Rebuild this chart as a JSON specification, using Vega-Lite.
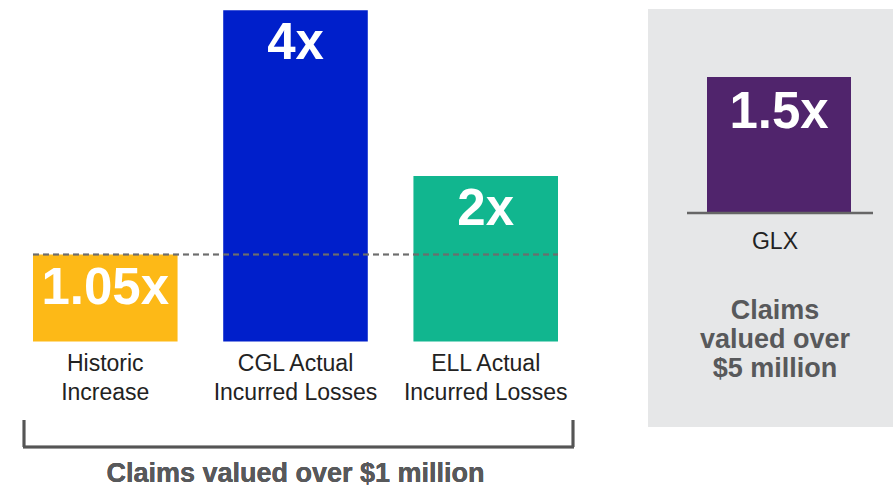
{
  "$schema": "https://vega.github.io/schema/vega-lite/v6.json",
  "padding": {"left": 8, "right": 0, "top": 0, "bottom": 0},
  "spacing": 55,
  "config": {"view": {"stroke": null}, "font": "Liberation Sans"},
  "hconcat": [
    {
      "width": 585,
      "height": 488,
      "data": {"values": [
        {"cat": "Historic Increase", "label": "Historic\nIncrease", "value": 1.05, "text": "1.05x"},
        {"cat": "CGL Actual Incurred Losses", "label": "CGL Actual\nIncurred Losses", "value": 4, "text": "4x"},
        {"cat": "ELL Actual Incurred Losses", "label": "ELL  Actual\nIncurred Losses", "value": 2, "text": "2x"}
      ]},
      "encoding": {
        "x": {"field": "cat", "type": "nominal", "axis": null,
              "scale": {"domain": ["Historic Increase", "CGL Actual Incurred Losses", "ELL Actual Incurred Losses"], "range": [25, 550], "paddingInner": 0.24, "paddingOuter": 0}}
      },
      "layer": [
        {
          "mark": {"type": "bar"},
          "encoding": {
            "y": {"field": "value", "type": "quantitative", "axis": null, "scale": {"domain": [-1.769, 4.124], "nice": false, "zero": false}},
            "y2": {"datum": 0},
            "color": {"field": "cat", "type": "nominal", "legend": null,
                      "scale": {"domain": ["Historic Increase", "CGL Actual Incurred Losses", "ELL Actual Incurred Losses"], "range": ["#FDB917", "#001FCB", "#11B68F"]}}
          }
        },
        {
          "mark": {"type": "rule", "color": "#6d6d6d", "strokeWidth": 1.5, "strokeDash": [6, 4]},
          "encoding": {
            "x": {"datum": "Historic Increase", "type": "nominal", "bandPosition": 0},
            "x2": {"datum": "ELL Actual Incurred Losses", "bandPosition": 1},
            "y": {"datum": 1.05, "type": "quantitative"}
          }
        },
        {
          "mark": {"type": "rule", "color": "#d3d3d3", "strokeWidth": 3},
          "encoding": {"y": {"datum": 0, "type": "quantitative"}}
        },
        {
          "mark": {"type": "text", "color": "white", "fontSize": 51, "fontWeight": "bold", "letterSpacing": -3.2, "baseline": "alphabetic", "dy": 49},
          "encoding": {
            "y": {"field": "value", "type": "quantitative"},
            "text": {"field": "text"}
          }
        },
        {
          "mark": {"type": "text", "color": "#222222", "fontSize": 23, "letterSpacing": -0.6, "lineBreak": "\n", "lineHeight": 28.5, "baseline": "alphabetic", "dy": 29.5},
          "encoding": {
            "y": {"datum": 0, "type": "quantitative"},
            "text": {"field": "label"}
          }
        },
        {
          "mark": {"type": "rule", "color": "#555555", "strokeWidth": 2.5, "xOffset": -9},
          "encoding": {
            "x": {"datum": "Historic Increase", "type": "nominal", "bandPosition": 0},
            "y": {"datum": -0.948, "type": "quantitative"},
            "y2": {"datum": -1.274}
          }
        },
        {
          "mark": {"type": "rule", "color": "#555555", "strokeWidth": 2.5, "xOffset": 15},
          "encoding": {
            "x": {"datum": "ELL Actual Incurred Losses", "type": "nominal", "bandPosition": 1},
            "y": {"datum": -0.948, "type": "quantitative"},
            "y2": {"datum": -1.274}
          }
        },
        {
          "mark": {"type": "rule", "color": "#555555", "strokeWidth": 2.5, "xOffset": -10, "x2Offset": 16},
          "encoding": {
            "x": {"datum": "Historic Increase", "type": "nominal", "bandPosition": 0},
            "x2": {"datum": "ELL Actual Incurred Losses", "bandPosition": 1},
            "y": {"datum": -1.274, "type": "quantitative"}
          }
        },
        {
          "mark": {"type": "text", "text": "Claims valued over $1 million", "color": "#58595b", "fontSize": 27, "fontWeight": "bold", "letterSpacing": -0.3, "baseline": "alphabetic", "dy": 35},
          "encoding": {
            "x": {"datum": "CGL Actual Incurred Losses", "type": "nominal"},
            "y": {"datum": -1.274, "type": "quantitative"}
          }
        }
      ]
    },
    {
      "width": 245,
      "height": 427,
      "data": {"values": [
        {"cat": "GLX", "value": 1.5, "text": "1.5x"}
      ]},
      "encoding": {
        "x": {"field": "cat", "type": "nominal", "axis": null,
              "scale": {"domain": ["GLX"], "range": [59, 203], "paddingInner": 0, "paddingOuter": 0}}
      },
      "layer": [
        {
          "mark": {"type": "rect", "color": "#e6e7e8"},
          "encoding": {
            "x": null,
            "y": {"datum": 2.25, "type": "quantitative", "axis": null, "scale": {"domain": [-2.36, 2.349], "nice": false, "zero": false}},
            "y2": {"datum": -2.36}
          }
        },
        {
          "mark": {"type": "bar", "color": "#50246C"},
          "encoding": {
            "y": {"field": "value", "type": "quantitative"},
            "y2": {"datum": 0}
          }
        },
        {
          "mark": {"type": "rule", "color": "#666666", "strokeWidth": 2.5, "xOffset": -20, "x2Offset": 22},
          "encoding": {
            "x": {"datum": "GLX", "type": "nominal", "bandPosition": 0},
            "x2": {"datum": "GLX", "bandPosition": 1},
            "y": {"datum": 0, "type": "quantitative"}
          }
        },
        {
          "mark": {"type": "text", "color": "white", "fontSize": 51, "fontWeight": "bold", "letterSpacing": -3.2, "baseline": "alphabetic", "dy": 51},
          "encoding": {
            "y": {"field": "value", "type": "quantitative"},
            "text": {"field": "text"}
          }
        },
        {
          "mark": {"type": "text", "color": "#222222", "fontSize": 23, "baseline": "alphabetic", "dy": 35.5, "dx": -4},
          "encoding": {
            "y": {"datum": 0, "type": "quantitative"},
            "text": {"field": "cat"}
          }
        },
        {
          "mark": {"type": "text", "text": "Claims\nvalued over\n$5 million", "lineBreak": "\n", "lineHeight": 29.3, "color": "#58595b", "fontSize": 27, "fontWeight": "bold", "letterSpacing": -0.3, "baseline": "alphabetic", "dy": 105.5, "dx": -4},
          "encoding": {
            "y": {"datum": 0, "type": "quantitative"}
          }
        }
      ]
    }
  ]
}
